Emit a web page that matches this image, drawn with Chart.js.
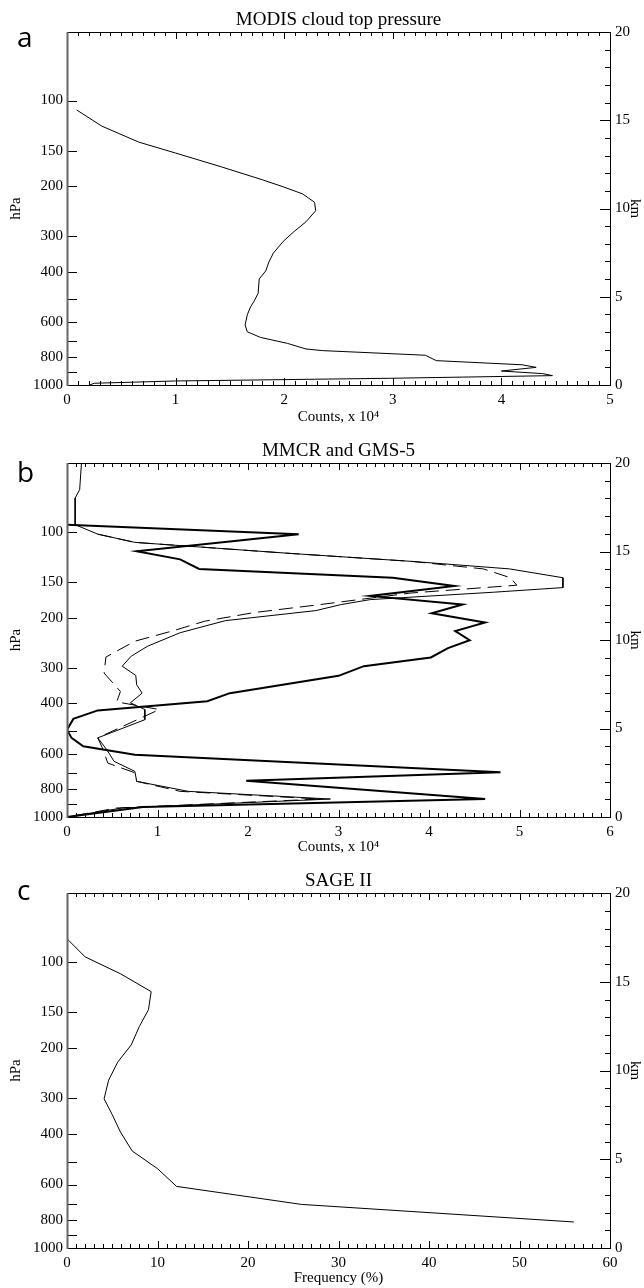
<!DOCTYPE html>
<html>
<head>
<meta charset="utf-8">
<title>Cloud top profiles</title>
<script src="https://cdn.jsdelivr.net/npm/chart.js@4.4.1/dist/chart.umd.min.js"></script>
<style>
  html, body { margin: 0; padding: 0; background: #fff; }
  #wrap { position: relative; width: 644px; height: 1288px; overflow: hidden; }
  canvas { position: absolute; left: 0; }
</style>
</head>
<body>
<div id="wrap">
  <canvas id="panelA" width="644" height="430" style="top:0px"></canvas>
  <canvas id="panelB" width="644" height="430" style="top:430px"></canvas>
  <canvas id="panelC" width="644" height="428" style="top:860px"></canvas>
</div>
<script>
// axes
const pressureTicks = [100, 150, 200, 300, 400, 500, 600, 700, 800, 900, 1000];
const pressureLabels = [100, 150, 200, 300, 400, 600, 800, 1000];
const kmLabels = [0, 5, 10, 15, 20];
const countTicksA = [0, 1, 2, 3, 4, 5];
const countTicksB = [0, 1, 2, 3, 4, 5, 6];
const freqTicks = [0, 10, 20, 30, 40, 50, 60];

// a: MODIS cloud top pressure (counts x 10^4)
const modisPressure = [108, 123, 140, 153, 171, 190, 201, 213, 228, 244, 267, 289, 313, 344, 369, 397, 424, 476, 510, 531,
  567, 615, 650, 680, 714, 747, 757, 786, 821, 849, 867, 893, 912, 927, 947, 968, 986, 1000];
const modisCounts = [0.09, 0.32, 0.66, 1.00, 1.42, 1.80, 1.99, 2.17, 2.28, 2.29, 2.20, 2.09, 1.99, 1.90, 1.86, 1.83, 1.77, 1.76, 1.72, 1.69,
  1.66, 1.64, 1.66, 1.78, 2.03, 2.20, 2.35, 3.30, 3.40, 4.19, 4.32, 4.00, 4.38, 4.47, 2.98, 1.00, 0.25, 0.21];

// b: MMCR (thick) and GMS-5 (thin, dashed)
const mmcrPressure = [94.5, 102, 117, 125, 135, 145, 155, 168, 180, 193, 208, 223, 240, 256, 276, 296, 320, 368, 393, 423,
  453, 494, 528, 565, 605, 697, 746, 865, 922, 1000];
const mmcrCounts = [0, 2.56, 0.77, 1.25, 1.46, 3.60, 4.28, 3.35, 4.37, 4.03, 4.62, 4.29, 4.45, 4.21, 4.02, 3.28, 3.00, 1.80, 1.55, 0.34,
  0.07, 0, 0.05, 0.18, 0.75, 4.79, 1.98, 4.62, 0.84, 0];
const gmsPressure = [57.4, 71.2, 76.2, 94.5, 102, 109, 119, 127, 135, 145, 157, 163, 173, 180, 189, 205, 226, 252, 273, 296,
  319, 344, 368, 398, 420, 456, 528, 581, 638, 692, 750, 813, 865, 930, 1000];
const gmsCounts = [0.16, 0.14, 0.09, 0.09, 0.34, 0.75, 2.44, 3.80, 4.89, 5.48, 5.48, 4.71, 3.35, 3.03, 2.75, 1.75, 1.25, 0.89, 0.71, 0.61,
  0.76, 0.77, 0.83, 0.70, 0.86, 0.86, 0.34, 0.44, 0.52, 0.75, 0.77, 1.34, 2.91, 0.61, 0];
const gms2Pressure = [102, 109, 119, 127, 135, 145, 154, 164, 171, 180, 192, 206, 223, 242, 275, 313, 363, 395, 420, 528,
  581, 647, 700, 750, 813, 865, 930, 1000];
const gms2Counts = [0.34, 0.75, 2.44, 3.80, 4.60, 4.90, 4.97, 3.80, 3.35, 2.80, 2.07, 1.52, 1.16, 0.75, 0.43, 0.41, 0.59, 0.55, 1.02, 0.34,
  0.40, 0.45, 0.75, 0.77, 1.25, 2.80, 0.55, 0];

// c: SAGE II frequency (%)
const sagePressure = [83, 96, 110, 127, 147, 168, 195, 224, 259, 301, 342, 393, 458, 528, 609, 704, 811];
const sageFreq = [0, 2.0, 5.9, 9.3, 9.0, 8.0, 7.1, 5.6, 4.6, 4.1, 5.0, 5.9, 7.2, 10.0, 12.1, 25.9, 56.0];

const SCALE_HEIGHT = 7;  // km, ties the hPa axis to the km axis
const P_TOP = 1000 * Math.exp(-20 / SCALE_HEIGHT);

Chart.defaults.font.family = "'Liberation Serif', 'Times New Roman', serif";
Chart.defaults.font.size = 15;
Chart.defaults.color = '#000';

// box, inward tick marks, title and panel letter
const framePlugin = {
  id: 'frame',
  afterDraw(chart, args, opts) {
    const { ctx, chartArea: a } = chart;
    const x = chart.scales.x, y = chart.scales.y, y2 = chart.scales.y2;
    ctx.save();
    ctx.strokeStyle = '#000';
    ctx.lineWidth = 1;
    ctx.beginPath();
    const nMinor = Math.round((x.max - x.min) / opts.xStep * 10);
    for (let i = 0; i <= nMinor; i++) {
      const px = Math.round(x.getPixelForValue(x.min + i * opts.xStep / 10)) + 0.5;
      const len = i % 10 === 0 ? 7 : 4;
      ctx.moveTo(px, a.bottom); ctx.lineTo(px, a.bottom - len);
      ctx.moveTo(px, a.top); ctx.lineTo(px, a.top + len);
    }
    y.ticks.forEach(t => {
      const py = Math.round(y.getPixelForValue(t.value)) + 0.5;
      ctx.moveTo(a.left, py); ctx.lineTo(a.left + 10, py);
    });
    for (let k = 0; k <= 20; k++) {
      const py = Math.round(y2.getPixelForValue(k)) + 0.5;
      ctx.moveTo(a.right, py); ctx.lineTo(a.right - (k % 5 === 0 ? 10 : 5), py);
    }
    ctx.stroke();
    ctx.strokeRect(a.left + 0.5, a.top + 0.5, a.right - a.left, a.bottom - a.top);
    ctx.strokeStyle = '#666';
    ctx.lineWidth = 2;
    ctx.beginPath();
    ctx.moveTo(a.left + 0.5, a.top); ctx.lineTo(a.left + 0.5, a.bottom + 1);
    ctx.stroke();

    ctx.fillStyle = '#000';
    ctx.textAlign = 'center';
    ctx.textBaseline = 'alphabetic';
    ctx.font = "19px 'Liberation Serif', serif";
    ctx.fillText(opts.title, (a.left + a.right) / 2, a.top - 7);
    ctx.textAlign = 'left';
    ctx.font = "28px 'Open Sans', sans-serif";
    ctx.fillText(opts.letter, 17, opts.letterY);
    ctx.restore();
  }
};

function series(pressures, values, width, dash) {
  return {
    data: pressures.map((p, i) => ({ x: values[i], y: p })),
    showLine: true,
    borderColor: '#000',
    borderWidth: width,
    borderDash: dash || [],
    pointRadius: 0,
    pointHoverRadius: 0,
    tension: 0,
    fill: false
  };
}

function makePanel(id, p) {
  const canvas = document.getElementById(id);
  return new Chart(canvas, {
    type: 'scatter',
    data: { datasets: p.datasets },
    plugins: [framePlugin],
    options: {
      responsive: false,
      animation: false,
      devicePixelRatio: 1,
      events: [],
      layout: { padding: { top: p.top, left: 0, right: 0, bottom: 0 } },
      plugins: {
        legend: { display: false },
        tooltip: { enabled: false },
        frame: { title: p.title, letter: p.letter, letterY: p.letterY, xStep: p.xTicks[1] - p.xTicks[0] }
      },
      scales: {
        x: {
          type: 'linear', position: 'bottom',
          min: p.xTicks[0], max: p.xTicks[p.xTicks.length - 1],
          grid: { display: false, drawTicks: false },
          border: { display: false },
          afterBuildTicks: s => { s.ticks = p.xTicks.map(v => ({ value: v })); },
          afterFit: s => { s.height = canvas.height - p.bottom; },
          ticks: { autoSkip: false, maxRotation: 0, padding: 6 },
          title: { display: true, text: p.xTitle, padding: { top: 0, bottom: p.titlePad } }
        },
        y: {
          type: 'logarithmic', position: 'left', reverse: true,
          min: P_TOP, max: 1000,
          grid: { display: false, drawTicks: false },
          border: { display: false },
          afterBuildTicks: s => { s.ticks = pressureTicks.map(v => ({ value: v })); },
          afterFit: s => { s.width = 67; },
          ticks: { autoSkip: false, padding: 4, callback: v => pressureLabels.includes(v) ? String(v) : '' },
          title: { display: true, text: 'hPa', padding: { top: 7, bottom: 0 } }
        },
        y2: {
          type: 'linear', position: 'right',
          min: 0, max: 20,
          grid: { display: false, drawTicks: false },
          border: { display: false },
          afterBuildTicks: s => { s.ticks = kmLabels.map(v => ({ value: v })); },
          afterFit: s => { s.width = 34; },
          ticks: { autoSkip: false, padding: 5 },
          title: { display: true, text: 'km', padding: { top: 0, bottom: 0 } }
        }
      }
    }
  });
}

makePanel('panelA', {
  title: 'MODIS cloud top pressure', letter: 'a', letterY: 47,
  top: 32, bottom: 385, titlePad: 4,
  xTicks: countTicksA, xTitle: 'Counts, x 10\u2074',
  datasets: [series(modisPressure, modisCounts, 1)]
});

makePanel('panelB', {
  title: 'MMCR and GMS-5', letter: 'b', letterY: 52,
  top: 33, bottom: 387, titlePad: 4,
  xTicks: countTicksB, xTitle: 'Counts, x 10\u2074',
  datasets: [
    series(mmcrPressure, mmcrCounts, 2),
    series(gmsPressure, gmsCounts, 1),
    series(gms2Pressure, gms2Counts, 1, [14, 7])
  ]
});

makePanel('panelC', {
  title: 'SAGE II', letter: 'c', letterY: 40,
  top: 33, bottom: 388, titlePad: 1,
  xTicks: freqTicks, xTitle: 'Frequency (%)',
  datasets: [series(sagePressure, sageFreq, 1)]
});
</script>
</body>
</html>
